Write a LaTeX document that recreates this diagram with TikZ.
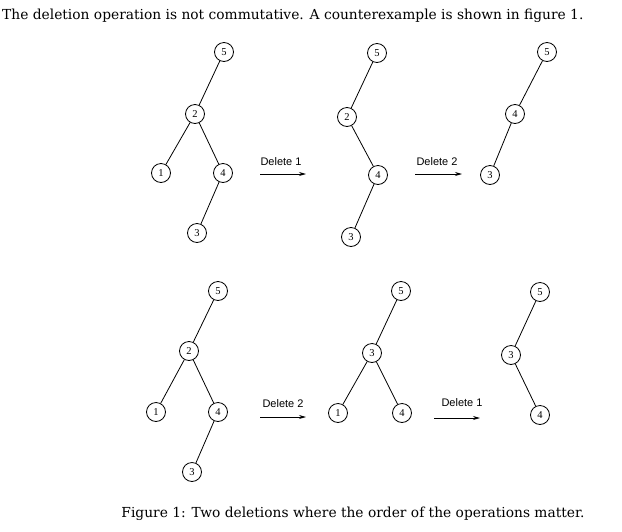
\documentclass[tikz,border=0pt]{standalone}
\usepackage{fontspec}
\newfontfamily\nodefont{Liberation Serif}
\newfontfamily\labfont{Liberation Sans}
\newfontfamily\bodyserif{DejaVu Serif}
\usetikzlibrary{arrows.meta}
\tikzset{
  bst/.style={circle,draw,line width=0.8pt,inner sep=0pt,minimum size=19pt,font=\nodefont\fontsize{10.5}{10.5}\selectfont},
  edge/.style={line width=0.8pt},
  oparrow/.style={line width=0.8pt,-{Stealth[length=7pt,width=4pt]}},
  oplabel/.style={font=\labfont\fontsize{11}{12}\selectfont,inner sep=0pt},
  bodytext/.style={inner sep=0pt,font=\bodyserif\fontsize{13.8}{16}\selectfont}
}
\begin{document}
\begin{tikzpicture}[x=1pt,y=-1pt]
\useasboundingbox (0,0) rectangle (622,531);
\node[bodytext,anchor=base west] (title) at (2,19) {The deletion operation is not commutative. A counterexample is shown in figure 1.};
% top row, tree A
\node[bst] (a5) at (224,52) {5};
\node[bst] (a2) at (195,114) {2};
\node[bst] (a1) at (161,173) {1};
\node[bst] (a4) at (223,173) {4};
\node[bst] (a3) at (197,233) {3};
\draw[edge] (a5)--(a2) (a2)--(a1) (a2)--(a4) (a4)--(a3);
% arrow 1
\coordinate (s1) at (260,174); \coordinate (e1) at (306,174);
\draw[oparrow] (s1)--(e1);
\node[oplabel] (l1) at (281,162) {Delete 1};
% top row, tree B
\node[bst] (b5) at (377,53) {5};
\node[bst] (b2) at (347,117) {2};
\node[bst] (b4) at (378,175) {4};
\node[bst] (b3) at (351,237) {3};
\draw[edge] (b5)--(b2) (b2)--(b4) (b4)--(b3);
% arrow 2
\coordinate (s2) at (415,174); \coordinate (e2) at (462,174);
\draw[oparrow] (s2)--(e2);
\node[oplabel] (l2) at (437,162) {Delete 2};
% top row, tree C
\node[bst] (c5) at (547,52) {5};
\node[bst] (c4) at (515,114) {4};
\node[bst] (c3) at (490,175) {3};
\draw[edge] (c5)--(c4) (c4)--(c3);
% bottom row, tree D
\node[bst] (d5) at (218,291) {5};
\node[bst] (d2) at (189,351) {2};
\node[bst] (d1) at (156,412) {1};
\node[bst] (d4) at (218,412) {4};
\node[bst] (d3) at (192,472) {3};
\draw[edge] (d5)--(d2) (d2)--(d1) (d2)--(d4) (d4)--(d3);
% arrow 3
\coordinate (s3) at (260,417); \coordinate (e3) at (306,417);
\draw[oparrow] (s3)--(e3);
\node[oplabel] (l3) at (283,404) {Delete 2};
% bottom row, tree E
\node[bst] (e5) at (401,291) {5};
\node[bst] (ee3) at (372,353) {3};
\node[bst] (ee1) at (338,413) {1};
\node[bst] (ee4) at (402,413) {4};
\draw[edge] (e5)--(ee3) (ee3)--(ee1) (ee3)--(ee4);
% arrow 4
\coordinate (s4) at (434,418); \coordinate (e4) at (480,418);
\draw[oparrow] (s4)--(e4);
\node[oplabel] (l4) at (462,403) {Delete 1};
% bottom row, tree F
\node[bst] (f5) at (540,292) {5};
\node[bst] (f3) at (511,355) {3};
\node[bst] (f4) at (540,415) {4};
\draw[edge] (f5)--(f3) (f3)--(f4);
% caption
\node[bodytext,anchor=base] (cap) at (353,517) {Figure 1: Two deletions where the order of the operations matter.};
\end{tikzpicture}
\end{document}
